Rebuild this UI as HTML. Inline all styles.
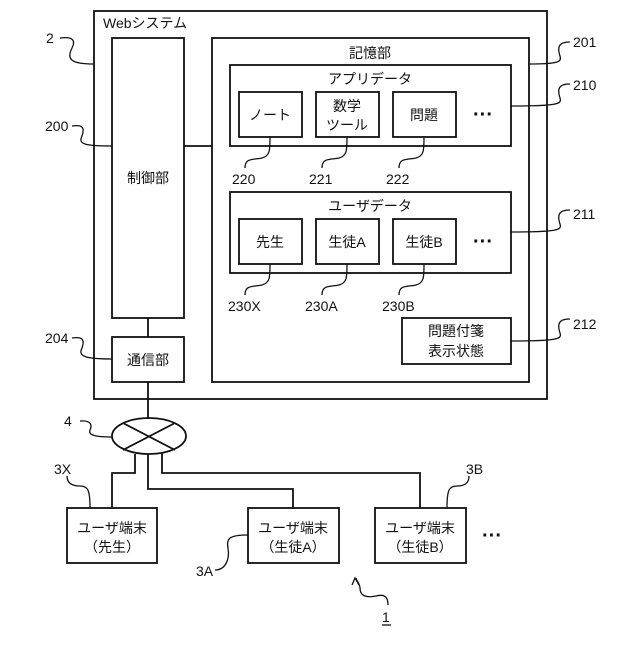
<!DOCTYPE html>
<html><head><meta charset="utf-8"><style>
body{margin:0;background:#fff}
text{font-family:"Liberation Sans","Noto Sans CJK JP",sans-serif;font-size:14px;fill:#111}
.d{font-size:20px;font-weight:bold}
</style></head><body>
<svg width="640" height="640" viewBox="0 0 640 640" xmlns="http://www.w3.org/2000/svg">
<g fill="none" stroke="#111" stroke-width="1.8">
<rect x="94" y="11" width="453" height="388"/>
<rect x="112" y="38" width="72" height="280"/>
<rect x="112" y="337" width="72" height="45"/>
<line x1="148" y1="318" x2="148" y2="337"/>
<rect x="212" y="38" width="317" height="344"/>
<line x1="184" y1="146" x2="212" y2="146"/>
<rect x="230" y="65" width="281" height="81"/>
<rect x="239" y="92" width="63" height="45"/>
<rect x="316" y="92" width="63" height="45"/>
<rect x="393" y="92" width="63" height="45"/>
<rect x="230" y="192" width="281" height="81"/>
<rect x="239" y="219" width="63" height="45"/>
<rect x="316" y="219" width="63" height="45"/>
<rect x="393" y="219" width="63" height="45"/>
<rect x="402" y="318" width="109" height="46"/>
<line x1="148" y1="382" x2="148" y2="419"/>
<ellipse cx="149" cy="436" rx="37" ry="18"/>
<line x1="123" y1="423" x2="175" y2="450"/>
<line x1="175" y1="423" x2="123" y2="450"/>
<polyline points="135,454 135,473 112,473 112,508"/>
<polyline points="148,454 148,489 293,489 293,508"/>
<polyline points="162,453 162,473 420,473 420,508"/>
<rect x="67" y="508" width="90" height="55"/>
<rect x="248" y="508" width="91" height="55"/>
<rect x="375" y="508" width="91" height="55"/>
</g>
<g fill="none" stroke="#111" stroke-width="1.3">
<path d="M60,38 C75,36 75,42 72,48 C66,60 72,64 94,64"/>
<path d="M72,126 C85,124 84,130 82,136 C78,144 84,146 112,146"/>
<path d="M72,338 C85,336 84,342 82,348 C78,356 84,359 112,359"/>
<path d="M80,421 C92,420 92,426 90,430 C88,435 95,437 112,437"/>
<path d="M529,64 C558,64 562,62 560,56 C556,44 562,42 570,42"/>
<path d="M511,106 C558,106 562,104 560,98 C556,86 562,84 570,84"/>
<path d="M511,232 C558,232 562,230 560,224 C556,212 562,210 570,210"/>
<path d="M511,341 C558,341 562,339 560,333 C556,321 562,319 570,319"/>
<path d="M270,137 C270,150 270,156 262,158 C252,160 245,158 245,168"/>
<path d="M347,137 C347,150 347,156 339,158 C329,160 322,158 322,168"/>
<path d="M424,137 C424,150 424,156 416,158 C406,160 399,158 399,168"/>
<path d="M270,264 C270,277 270,283 262,285 C252,287 245,285 245,295"/>
<path d="M347,264 C347,277 347,283 339,285 C329,287 322,285 322,295"/>
<path d="M424,264 C424,277 424,283 416,285 C406,287 399,285 399,295"/>
<path d="M90,508 C90,490 88,486 80,486 C72,486 67,483 67,476"/>
<path d="M447,508 C447,490 449,486 457,486 C465,486 469,483 469,476"/>
<path d="M248,535 C230,535 226,538 228,548 C230,560 225,570 215,570"/>
<path d="M388,605 C388,596 384,594 376,596 C366,598 360,596 360,588 C360,584 356,580 356,578"/>
<path d="M352,585 L355,578 L359,585"/>
<line x1="382" y1="625" x2="391" y2="625"/>
</g>
<text x="103" y="28">Webシステム</text>
<text x="148" y="183" text-anchor="middle">制御部</text>
<text x="148" y="365" text-anchor="middle">通信部</text>
<text x="370" y="58" text-anchor="middle">記憶部</text>
<text x="370" y="84" text-anchor="middle">アプリデータ</text>
<text x="270" y="120" text-anchor="middle">ノート</text>
<text x="347" y="111" text-anchor="middle">数学</text>
<text x="347" y="130" text-anchor="middle">ツール</text>
<text x="424" y="120" text-anchor="middle">問題</text>
<text x="483" y="121" text-anchor="middle" class="d">···</text>
<text x="370" y="211" text-anchor="middle">ユーザデータ</text>
<text x="270" y="247" text-anchor="middle">先生</text>
<text x="347" y="247" text-anchor="middle">生徒A</text>
<text x="424" y="247" text-anchor="middle">生徒B</text>
<text x="483" y="248" text-anchor="middle" class="d">···</text>
<text x="456" y="336" text-anchor="middle">問題付箋</text>
<text x="456" y="356" text-anchor="middle">表示状態</text>
<text x="232" y="184">220</text>
<text x="309" y="184">221</text>
<text x="386" y="184">222</text>
<text x="228" y="311">230X</text>
<text x="305" y="311">230A</text>
<text x="382" y="311">230B</text>
<text x="573" y="47">201</text>
<text x="573" y="90">210</text>
<text x="573" y="219">211</text>
<text x="573" y="329">212</text>
<text x="46" y="43">2</text>
<text x="45" y="131">200</text>
<text x="45" y="343">204</text>
<text x="64" y="426">4</text>
<text x="112" y="533" text-anchor="middle">ユーザ端末</text>
<text x="112" y="552" text-anchor="middle">（先生）</text>
<text x="293" y="533" text-anchor="middle">ユーザ端末</text>
<text x="293" y="552" text-anchor="middle">（生徒A）</text>
<text x="420" y="533" text-anchor="middle">ユーザ端末</text>
<text x="420" y="552" text-anchor="middle">（生徒B）</text>
<text x="492" y="542" text-anchor="middle" class="d">···</text>
<text x="54" y="474">3X</text>
<text x="466" y="474">3B</text>
<text x="196" y="576">3A</text>
<text x="382" y="622">1</text>
</svg>
</body></html>
